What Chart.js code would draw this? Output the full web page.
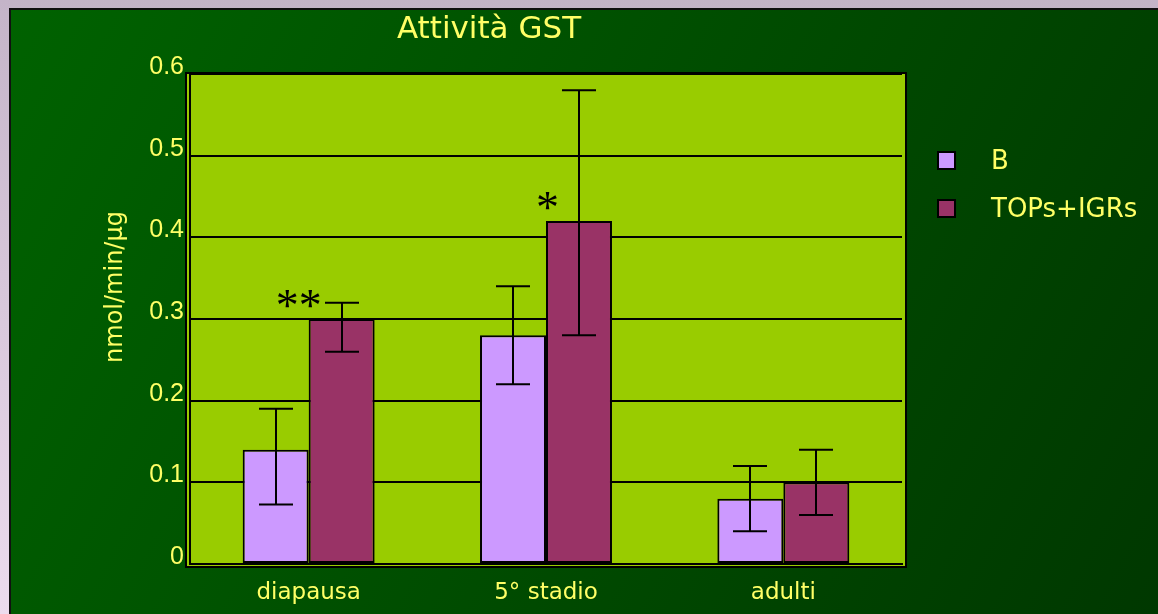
<!DOCTYPE html>
<html>
<head>
<meta charset="utf-8">
<script src="https://cdn.jsdelivr.net/npm/chart.js@4.4.0/dist/chart.umd.min.js"></script>
<style>
  html, body { margin: 0; padding: 0; background: #C4B4C8; overflow: hidden; }
  canvas { display: block; }
</style>
</head>
<body>
<canvas id="c" width="1158" height="614"></canvas>
<script>
// GST activity per stage, control (B) vs treated (TOPs+IGRs)
const categories = ['diapausa', '5° stadio', 'adulti'];
const seriesNames = ['B', 'TOPs+IGRs'];
const valuesB = [0.14, 0.28, 0.08];
const valuesTOP = [0.30, 0.42, 0.10];
// error bar ends (lower / upper)
const lowB = [0.073, 0.22, 0.04];
const highB = [0.19, 0.34, 0.12];
const lowTOP = [0.26, 0.28, 0.06];
const highTOP = [0.32, 0.58, 0.14];
// significance marks over the treated bars
const significance = ['**', '*', ''];
const yTickLabels = ['0', '0.1', '0.2', '0.3', '0.4', '0.5', '0.6'];
const chartTitle = 'Attività GST';
const yTitle = 'nmol/min/µg';

const TEXT = '#FFFF66';
const FONT = '"DejaVu Sans", sans-serif';

const backdrop = {
  id: 'backdrop',
  beforeDraw(chart) {
    const { ctx, width, height, chartArea: a } = chart;
    ctx.save();
    // lavender outer frame
    const lav = ctx.createLinearGradient(0, 0, 0, height);
    lav.addColorStop(0, '#C4B4C8');
    lav.addColorStop(1, '#ECDCEE');
    ctx.fillStyle = lav;
    ctx.fillRect(0, 0, width, height);
    // dark green panel
    const g = ctx.createLinearGradient(10, 8, width, height);
    g.addColorStop(0, '#006200');
    g.addColorStop(1, '#003800');
    ctx.fillStyle = g;
    ctx.fillRect(10, 8, width - 10, height - 8);
    ctx.strokeStyle = '#111';
    ctx.lineWidth = 2;
    ctx.beginPath();
    ctx.moveTo(10, height);
    ctx.lineTo(10, 9);
    ctx.lineTo(width, 9);
    ctx.stroke();
    // plot frame
    const fx = a.left - 4, fy = a.top - 1, fw = a.right + 4 - fx, fh = a.bottom + 3 - fy;
    ctx.fillStyle = '#99CC00';
    ctx.fillRect(fx, fy, fw, fh);
    ctx.strokeStyle = '#000';
    ctx.lineWidth = 2;
    ctx.strokeRect(fx, fy, fw, fh);
    ctx.restore();
  }
};

const errorBars = {
  id: 'errorBars',
  afterDatasetsDraw(chart) {
    const { ctx } = chart;
    const ys = chart.scales.y;
    ctx.save();
    ctx.strokeStyle = '#000';
    ctx.lineWidth = 2;
    chart.data.datasets.forEach((ds, di) => {
      const meta = chart.getDatasetMeta(di);
      meta.data.forEach((bar, i) => {
        const lo = ys.getPixelForValue(ds.errLow[i]);
        const hi = ys.getPixelForValue(ds.errHigh[i]);
        const x = Math.round(bar.x);
        const cap = 17;
        ctx.beginPath();
        ctx.moveTo(x, lo); ctx.lineTo(x, hi);
        ctx.moveTo(x - cap, hi); ctx.lineTo(x + cap, hi);
        ctx.moveTo(x - cap, lo); ctx.lineTo(x + cap, lo);
        ctx.stroke();
      });
    });
    // significance asterisks, placed at the left edge of the treated bars
    const meta = chart.getDatasetMeta(1);
    ctx.fillStyle = '#000';
    ctx.font = '46px "Liberation Serif", serif';
    ctx.textAlign = 'right';
    ctx.textBaseline = 'alphabetic';
    meta.data.forEach((bar, i) => {
      const mark = significance[i];
      if (!mark) return;
      const m = ctx.measureText(mark);
      const left = bar.x - bar.width / 2;
      const bottom = bar.y - 11;
      ctx.fillText(mark, left + 13, bottom - m.actualBoundingBoxDescent);
    });
    ctx.restore();
  }
};

const textLayer = {
  id: 'textLayer',
  afterDraw(chart) {
    const { ctx } = chart;
    ctx.save();
    ctx.fillStyle = TEXT;
    // chart title
    ctx.font = '31px ' + FONT;
    ctx.textAlign = 'center';
    ctx.textBaseline = 'middle';
    ctx.fillText(chartTitle, 489, 30);
    // y axis title
    ctx.save();
    ctx.translate(116, 287);
    ctx.rotate(-Math.PI / 2);
    ctx.font = '24px ' + FONT;
    ctx.fillText(yTitle, 0, 0);
    ctx.restore();
    // legend
    ctx.font = '26px ' + FONT;
    ctx.textAlign = 'left';
    const rows = [160, 208];
    chart.data.datasets.forEach((ds, i) => {
      const cy = rows[i];
      ctx.fillStyle = ds.backgroundColor;
      ctx.fillRect(938, cy - 8, 17, 17);
      ctx.strokeStyle = '#000';
      ctx.lineWidth = 2;
      ctx.strokeRect(938, cy - 8, 17, 17);
      ctx.fillStyle = TEXT;
      ctx.fillText(ds.label, 991, cy + 2);
    });
    ctx.restore();
  }
};

new Chart(document.getElementById('c'), {
  type: 'bar',
  data: {
    labels: categories,
    datasets: [
      {
        label: seriesNames[0],
        data: valuesB,
        errLow: lowB,
        errHigh: highB,
        backgroundColor: '#CC99FF',
        borderColor: '#000',
        borderWidth: 2,
        borderSkipped: false
      },
      {
        label: seriesNames[1],
        data: valuesTOP,
        errLow: lowTOP,
        errHigh: highTOP,
        backgroundColor: '#993366',
        borderColor: '#000',
        borderWidth: 2,
        borderSkipped: false
      }
    ]
  },
  options: {
    responsive: false,
    animation: false,
    devicePixelRatio: 1,
    layout: { padding: { top: 74, left: 10, right: 256, bottom: 0 } },
    datasets: { bar: { categoryPercentage: 0.556, barPercentage: 1 } },
    plugins: {
      legend: { display: false },
      title: { display: false },
      tooltip: { enabled: false }
    },
    scales: {
      x: {
        grid: { display: false, drawTicks: false },
        border: { display: true, color: '#000', width: 2 },
        ticks: { color: TEXT, font: { family: FONT, size: 23 }, padding: 15 },
        afterFit(s) { s.height = 50; }
      },
      y: {
        min: 0,
        max: 0.6,
        grid: { color: '#000', lineWidth: 2, drawTicks: false },
        border: { display: true, color: '#000', width: 2 },
        ticks: {
          stepSize: 0.1,
          color: TEXT,
          font: { family: '"Liberation Sans", sans-serif', size: 25 },
          padding: 6,
          labelOffset: -7,
          callback: (v, i) => yTickLabels[i]
        },
        afterFit(s) { s.width = 180; }
      }
    }
  },
  plugins: [backdrop, errorBars, textLayer]
});
</script>
</body>
</html>
